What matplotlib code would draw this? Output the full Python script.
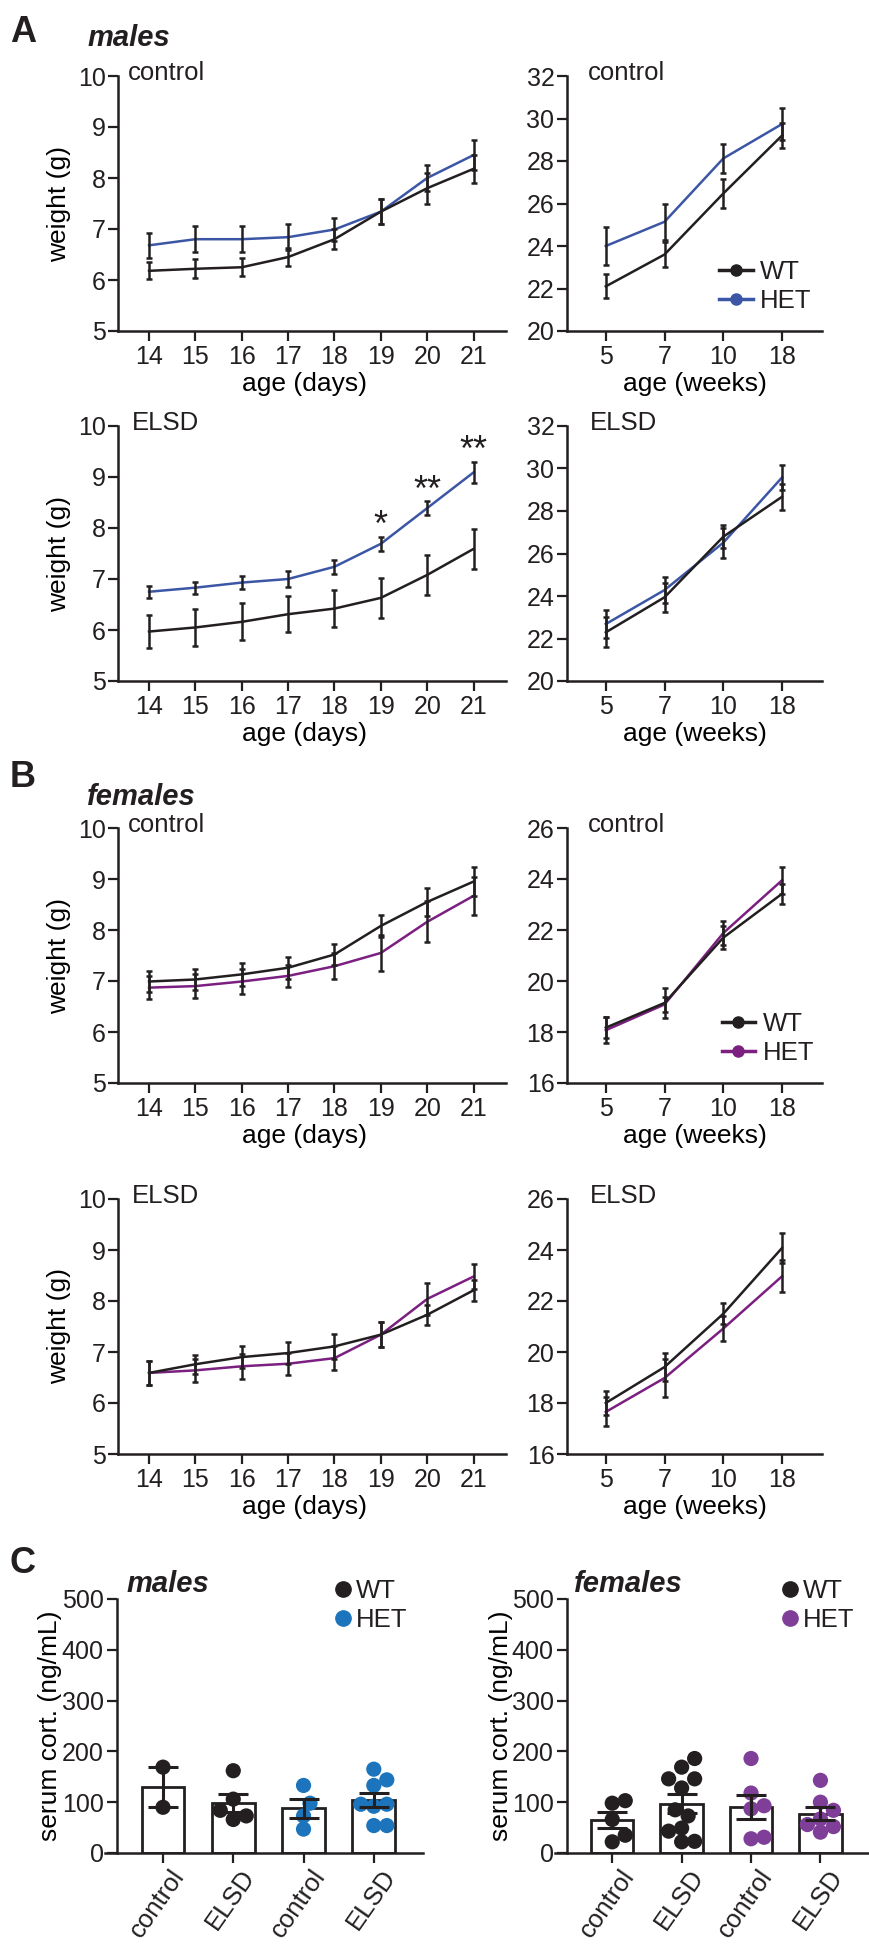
import numpy as np
import matplotlib.pyplot as plt
from matplotlib.lines import Line2D
from matplotlib.transforms import ScaledTranslation

plt.rcParams['font.family'] = ['Liberation Sans', 'DejaVu Sans']
plt.rcParams['text.color'] = '#231f20'
plt.rcParams['axes.edgecolor'] = '#231f20'
plt.rcParams['xtick.color'] = '#231f20'
plt.rcParams['ytick.color'] = '#231f20'

DARK = '#231f20'
BLUE_LINE = '#3c56a6'
PURPLE_LINE = '#7b1f80'
BLUE_DOT = '#1c75bc'
PURPLE_DOT = '#7f3f98'

# ---- data ----
days = [14, 15, 16, 17, 18, 19, 20, 21]
weeks = ['5', '7', '10', '18']

# males, control
m_ctrl_d_wt = [6.18, 6.22, 6.25, 6.45, 6.80, 7.34, 7.80, 8.18]
m_ctrl_d_wt_err = [0.17, 0.19, 0.18, 0.17, 0.20, 0.25, 0.30, 0.27]
m_ctrl_d_het = [6.68, 6.80, 6.80, 6.84, 6.99, 7.34, 8.00, 8.45]
m_ctrl_d_het_err = [0.25, 0.25, 0.25, 0.25, 0.23, 0.25, 0.25, 0.29]
m_ctrl_w_wt = [22.1, 23.6, 26.47, 29.2]
m_ctrl_w_wt_err = [0.57, 0.60, 0.67, 0.60]
m_ctrl_w_het = [24.0, 25.14, 28.12, 29.74]
m_ctrl_w_het_err = [0.90, 0.86, 0.68, 0.77]

# males, ELSD
m_elsd_d_wt = [5.97, 6.05, 6.16, 6.31, 6.42, 6.63, 7.08, 7.59]
m_elsd_d_wt_err = [0.33, 0.36, 0.36, 0.35, 0.36, 0.39, 0.39, 0.39]
m_elsd_d_het = [6.75, 6.83, 6.93, 7.00, 7.24, 7.69, 8.39, 9.09]
m_elsd_d_het_err = [0.12, 0.12, 0.13, 0.15, 0.14, 0.14, 0.13, 0.20]
m_elsd_sig_days = [19, 20, 21]
m_elsd_sig_marks = ['*', '**', '**']
m_elsd_w_wt = [22.29, 23.94, 26.79, 28.67]
m_elsd_w_wt_err = [0.70, 0.67, 0.55, 0.60]
m_elsd_w_het = [22.68, 24.28, 26.51, 29.58]
m_elsd_w_het_err = [0.65, 0.63, 0.70, 0.60]

# females, control
f_ctrl_d_wt = [6.99, 7.03, 7.13, 7.26, 7.52, 8.08, 8.55, 8.95]
f_ctrl_d_wt_err = [0.20, 0.20, 0.22, 0.22, 0.20, 0.21, 0.28, 0.28]
f_ctrl_d_het = [6.87, 6.90, 6.99, 7.10, 7.29, 7.55, 8.16, 8.67]
f_ctrl_d_het_err = [0.22, 0.24, 0.24, 0.22, 0.25, 0.36, 0.40, 0.37]
f_ctrl_w_wt = [18.17, 19.14, 21.70, 23.42]
f_ctrl_w_wt_err = [0.42, 0.60, 0.45, 0.40]
f_ctrl_w_het = [18.07, 19.08, 21.88, 23.95]
f_ctrl_w_het_err = [0.50, 0.30, 0.48, 0.52]

# females, ELSD
f_elsd_d_wt = [6.59, 6.76, 6.90, 6.98, 7.11, 7.34, 7.73, 8.21]
f_elsd_d_wt_err = [0.23, 0.19, 0.21, 0.21, 0.24, 0.25, 0.20, 0.21]
f_elsd_d_het = [6.59, 6.64, 6.72, 6.77, 6.88, 7.34, 8.04, 8.48]
f_elsd_d_het_err = [0.24, 0.23, 0.24, 0.22, 0.23, 0.25, 0.31, 0.24]
f_elsd_w_wt = [18.0, 19.41, 21.5, 24.08]
f_elsd_w_wt_err = [0.49, 0.56, 0.42, 0.60]
f_elsd_w_het = [17.65, 18.98, 20.92, 22.97]
f_elsd_w_het_err = [0.57, 0.74, 0.50, 0.62]

# serum corticosterone (ng/mL), individual animals
cort_groups = ['control', 'ELSD', 'control', 'ELSD']
m_cort_wt_ctrl = [169, 90]
m_cort_wt_elsd = [162, 106, 84, 73, 66]
m_cort_het_ctrl = [133, 98, 73, 47]
m_cort_het_elsd = [165, 144, 133, 96, 96, 92, 54, 54]
f_cort_wt_ctrl = [103, 98, 66, 35, 22]
f_cort_wt_elsd = [186, 169, 146, 146, 128, 85, 73, 49, 43, 23, 22]
f_cort_het_ctrl = [186, 118, 93, 87, 31, 28]
f_cort_het_elsd = [143, 100, 84, 67, 56, 52, 41]

W, H = 870, 1946
fig = plt.figure(figsize=(W / 100, H / 100), dpi=100)


def axes_px(x0, y0, x1, y1):
    return fig.add_axes([x0 / W, 1 - y1 / H, (x1 - x0) / W, (y1 - y0) / H])


def style_axes(ax, ticklen=7):
    for s in ['top', 'right']:
        ax.spines[s].set_visible(False)
    for s in ['left', 'bottom']:
        ax.spines[s].set_linewidth(1.8)
    ax.tick_params(direction='out', length=ticklen, width=1.6, labelsize=18)
    ax.tick_params(axis='y', pad=2)
    ax.tick_params(axis='x', pad=3)


def weight_panel(ax, x, xlabels, wt, wt_err, het, het_err, het_col, ylim, ystep,
                 tag, tag_x, xlabel, xlim, ylabel=True):
    ax.plot(x, het, color=het_col, lw=1.8, zorder=2)
    ax.errorbar(x, het, yerr=het_err, fmt='none', ecolor=DARK, elinewidth=1.8,
                capsize=2.5, capthick=1.8, zorder=3)
    ax.plot(x, wt, color=DARK, lw=1.8, zorder=4)
    ax.errorbar(x, wt, yerr=wt_err, fmt='none', ecolor=DARK, elinewidth=1.8,
                capsize=2.5, capthick=1.8, zorder=5)
    ax.set_xlim(xlim)
    ax.set_ylim(ylim)
    ax.set_yticks(np.arange(ylim[0], ylim[1] + 0.01, ystep))
    ax.set_xticks(x)
    ax.set_xticklabels(xlabels)
    style_axes(ax)
    ax.set_xlabel(xlabel, fontsize=19)
    ax.xaxis.set_label_coords(0.48 if ylabel else 0.5, -0.16)
    if ylabel:
        ax.set_ylabel('weight (g)', fontsize=19)
        ax.yaxis.set_label_coords(-0.12, 0.5)
    ax.text(tag_x, 1.01, tag, transform=ax.transAxes, va='center', ha='left', fontsize=18.5)


def add_legend(ax, het_col, anchor):
    handles = [Line2D([], [], color=DARK, lw=2.5, marker='o', ms=8),
               Line2D([], [], color=het_col, lw=2.5, marker='o', ms=8)]
    ax.legend(handles, ['WT', 'HET'], loc='lower right', bbox_to_anchor=anchor,
              frameon=False, fontsize=18.5, handlelength=1.3, handletextpad=0.3,
              labelspacing=0.2, borderpad=0, borderaxespad=0)


def swarm(values, px_x, px_y, diam=13.0):
    # simple beeswarm: nudge each point sideways until it no longer overlaps
    placed = []
    offs = np.zeros(len(values))
    order = np.argsort(values)
    step = diam / 2.0
    for i in order:
        vy = values[i] * px_y
        for k in [0, 1, -1, 2, -2, 3, -3, 4, -4, 5, -5]:
            dx = k * step
            if all((dx - px) ** 2 + (vy - py) ** 2 >= diam ** 2 for px, py in placed):
                break
        placed.append((dx, vy))
        offs[i] = dx / px_x
    return offs


def cort_panel(ax, box, data, colors, het_col, title, title_x):
    x0, y0, x1, y1 = box
    xlim = (-0.825, 3.70)
    ylim = (0, 500)
    px_x = (x1 - x0) / (xlim[1] - xlim[0])
    px_y = (y1 - y0) / (ylim[1] - ylim[0])
    for i, (vals, c) in enumerate(zip(data, colors)):
        vals = np.array(vals, dtype=float)
        mean = vals.mean()
        sem = vals.std(ddof=1) / np.sqrt(len(vals))
        ax.bar(i, mean, width=0.61, color='white', edgecolor=DARK, linewidth=2, zorder=1)
        offs = swarm(vals, px_x, px_y)
        ax.scatter(i + offs, vals, s=120, color=c, edgecolor='none', zorder=2)
        ax.errorbar(i, mean, yerr=sem, fmt='none', ecolor=DARK, elinewidth=2.2,
                    capsize=11, capthick=2.2, zorder=3)
    ax.set_xlim(xlim)
    ax.set_ylim(ylim)
    ax.set_yticks(np.arange(0, 501, 100))
    ax.set_xticks(range(len(cort_groups)))
    ax.set_xticklabels(cort_groups, rotation=55, ha='right', va='top', rotation_mode='anchor')
    style_axes(ax, ticklen=7.5)
    ax.tick_params(axis='x', labelsize=18.5, pad=1)
    ax.spines['left'].set_position(('axes', 12 / (x1 - x0)))
    ax.set_ylabel('serum cort. (ng/mL)', fontsize=19)
    ax.yaxis.set_label_coords(-0.135, 0.5)
    for lab in ax.get_xticklabels():
        lab.set_transform(lab.get_transform() + ScaledTranslation(7 / 100, 0, fig.dpi_scale_trans))
    handles = [Line2D([], [], ls='none', marker='o', ms=11, color=DARK),
               Line2D([], [], ls='none', marker='o', ms=11, color=het_col)]
    ax.legend(handles, ['WT', 'HET'], loc='upper left', bbox_to_anchor=(0.72, 1.08),
              frameon=False, fontsize=18.5, handlelength=0.7, handletextpad=0.15,
              labelspacing=0.2, borderpad=0, borderaxespad=0)
    fig.text(title_x / W, 1 - 1592 / H, title, fontsize=21, fontweight='bold',
             fontstyle='italic', va='baseline')


day_xlim = (13.33, 21.7)
wk_xlim = (-0.66, 3.68)
wk_x = list(range(len(weeks)))
rows = [76, 426, 828, 1199]

# A - males
ax = axes_px(118, rows[0], 506, rows[0] + 255)
weight_panel(ax, days, days, m_ctrl_d_wt, m_ctrl_d_wt_err, m_ctrl_d_het, m_ctrl_d_het_err,
             BLUE_LINE, (5, 10), 1, 'control', 0.026, 'age (days)', day_xlim)
ax = axes_px(567, rows[0], 822, rows[0] + 255)
weight_panel(ax, wk_x, weeks, m_ctrl_w_wt, m_ctrl_w_wt_err, m_ctrl_w_het, m_ctrl_w_het_err,
             BLUE_LINE, (20, 32), 2, 'control', 0.082, 'age (weeks)', wk_xlim, ylabel=False)
add_legend(ax, BLUE_LINE, (0.96, 0.07))

ax = axes_px(118, rows[1], 506, rows[1] + 255)
weight_panel(ax, days, days, m_elsd_d_wt, m_elsd_d_wt_err, m_elsd_d_het, m_elsd_d_het_err,
             BLUE_LINE, (5, 10), 1, 'ELSD', 0.036, 'age (days)', day_xlim)
for d, mark in zip(m_elsd_sig_days, m_elsd_sig_marks):
    i = days.index(d)
    ax.text(d, m_elsd_d_het[i] + m_elsd_d_het_err[i] + 0.02, mark, ha='center',
            va='baseline', fontsize=26)
ax = axes_px(567, rows[1], 822, rows[1] + 255)
weight_panel(ax, wk_x, weeks, m_elsd_w_wt, m_elsd_w_wt_err, m_elsd_w_het, m_elsd_w_het_err,
             BLUE_LINE, (20, 32), 2, 'ELSD', 0.09, 'age (weeks)', wk_xlim, ylabel=False)

# B - females
ax = axes_px(118, rows[2], 506, rows[2] + 255)
weight_panel(ax, days, days, f_ctrl_d_wt, f_ctrl_d_wt_err, f_ctrl_d_het, f_ctrl_d_het_err,
             PURPLE_LINE, (5, 10), 1, 'control', 0.026, 'age (days)', day_xlim)
ax = axes_px(567, rows[2], 822, rows[2] + 255)
weight_panel(ax, wk_x, weeks, f_ctrl_w_wt, f_ctrl_w_wt_err, f_ctrl_w_het, f_ctrl_w_het_err,
             PURPLE_LINE, (16, 26), 2, 'control', 0.082, 'age (weeks)', wk_xlim, ylabel=False)
add_legend(ax, PURPLE_LINE, (0.97, 0.07))

ax = axes_px(118, rows[3], 506, rows[3] + 255)
weight_panel(ax, days, days, f_elsd_d_wt, f_elsd_d_wt_err, f_elsd_d_het, f_elsd_d_het_err,
             PURPLE_LINE, (5, 10), 1, 'ELSD', 0.036, 'age (days)', day_xlim)
ax = axes_px(567, rows[3], 822, rows[3] + 255)
weight_panel(ax, wk_x, weeks, f_elsd_w_wt, f_elsd_w_wt_err, f_elsd_w_het, f_elsd_w_het_err,
             PURPLE_LINE, (16, 26), 2, 'ELSD', 0.09, 'age (weeks)', wk_xlim, ylabel=False)

# C - serum corticosterone
box = (105, 1599, 423, 1853)
ax = axes_px(*box)
cort_panel(ax, box, [m_cort_wt_ctrl, m_cort_wt_elsd, m_cort_het_ctrl, m_cort_het_elsd],
           [DARK, DARK, BLUE_DOT, BLUE_DOT], BLUE_DOT, 'males', 127)
box = (555, 1599, 869, 1853)
ax = axes_px(*box)
cort_panel(ax, box, [f_cort_wt_ctrl, f_cort_wt_elsd, f_cort_het_ctrl, f_cort_het_elsd],
           [DARK, DARK, PURPLE_DOT, PURPLE_DOT], PURPLE_DOT, 'females', 574)

# panel letters and sex titles
for letter, yb in [('A', 42), ('B', 787), ('C', 1573)]:
    fig.text(10 / W, 1 - yb / H, letter, fontsize=26, fontweight='bold', va='baseline')
fig.text(87 / W, 1 - 46 / H, 'males', fontsize=21, fontweight='bold', fontstyle='italic', va='baseline')
fig.text(87 / W, 1 - 805 / H, 'females', fontsize=21, fontweight='bold', fontstyle='italic', va='baseline')

fig.savefig('out.png', dpi=100)
